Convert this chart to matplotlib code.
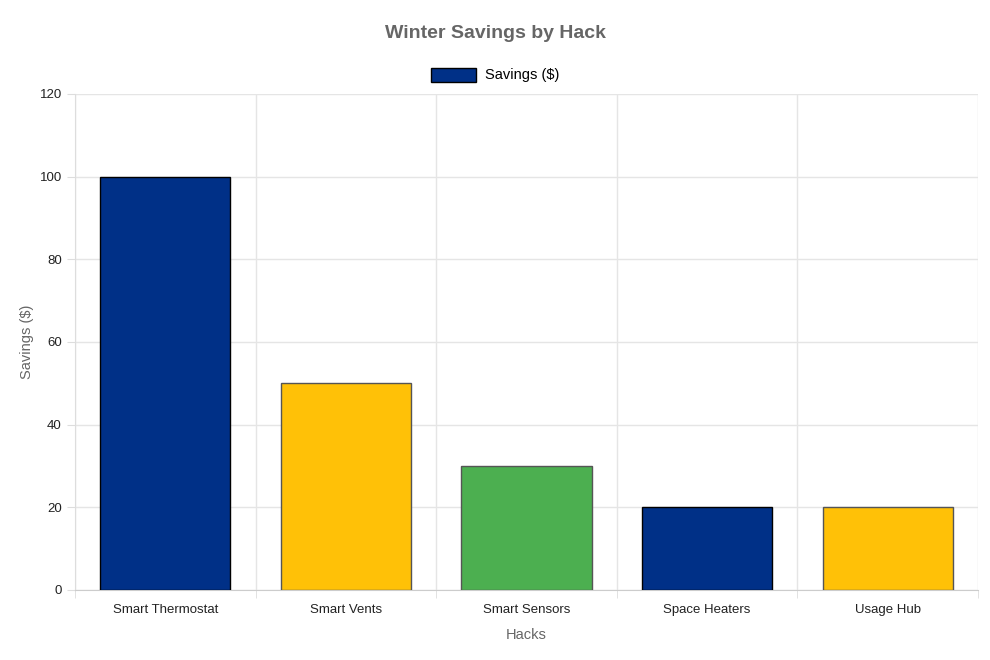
import numpy as np
import matplotlib.pyplot as plt

# data
hacks = ["Smart Thermostat", "Smart Vents", "Smart Sensors", "Space Heaters", "Usage Hub"]
savings = [100, 50, 30, 20, 20]
bar_colors = ["#003087", "#FFC107", "#4CAF50", "#003087", "#FFC107"]
edge_colors = ["#000000", "#555555", "#555555", "#000000", "#555555"]

plt.rcParams['font.family'] = ['Liberation Sans', 'DejaVu Sans']

fig = plt.figure(figsize=(9.9, 6.6), dpi=100)
ax = fig.add_axes([75/990, 70/660, 903/990, 496/660])

x = np.arange(len(hacks))
bars = ax.bar(x, savings, width=0.72, color=bar_colors,
              edgecolor=edge_colors, linewidth=1.0, zorder=3,
              label="Savings ($)")

ax.set_xlim(-0.5, len(hacks) - 0.5)
ax.set_ylim(0, 120)
ax.set_yticks(np.arange(0, 121, 20))
ax.set_xticks(x)
ax.set_xticklabels(hacks, fontsize=9.5, color="#222222")
ax.set_xticks(np.arange(-0.5, len(hacks)), minor=True)
ax.tick_params(axis='x', which='major', length=0, pad=10)
ax.tick_params(axis='x', which='minor', length=6, color="#dddddd")
ax.tick_params(axis='y', length=6, color="#dddddd", labelsize=9.5,
               labelcolor="#222222", pad=3.5)

ax.grid(True, axis='y', color="#e5e5e5", linewidth=1, zorder=0)
ax.grid(True, axis='x', which='minor', color="#e5e5e5", linewidth=1, zorder=0)

for side in ['top', 'right']:
    ax.spines[side].set_visible(False)
ax.spines['left'].set_color("#dddddd")
ax.spines['bottom'].set_color("#cccccc")

ax.set_xlabel("Hacks", fontsize=10.5, color="#666666", labelpad=9)
ax.set_ylabel("Savings ($)", fontsize=10.5, color="#666666", labelpad=4)

fig.suptitle("Winter Savings by Hack", fontsize=14, fontweight='bold',
             color="#666666", y=0.962)

leg = fig.legend(handles=[bars], labels=["Savings ($)"], loc='center',
                 bbox_to_anchor=(0.5, 1 - 75/660), frameon=False,
                 fontsize=10.5, handlelength=3.1, handleheight=1.1,
                 handletextpad=0.6)
leg.legend_handles[0].set_edgecolor("#000000")

fig.savefig("out.png", dpi=100)
